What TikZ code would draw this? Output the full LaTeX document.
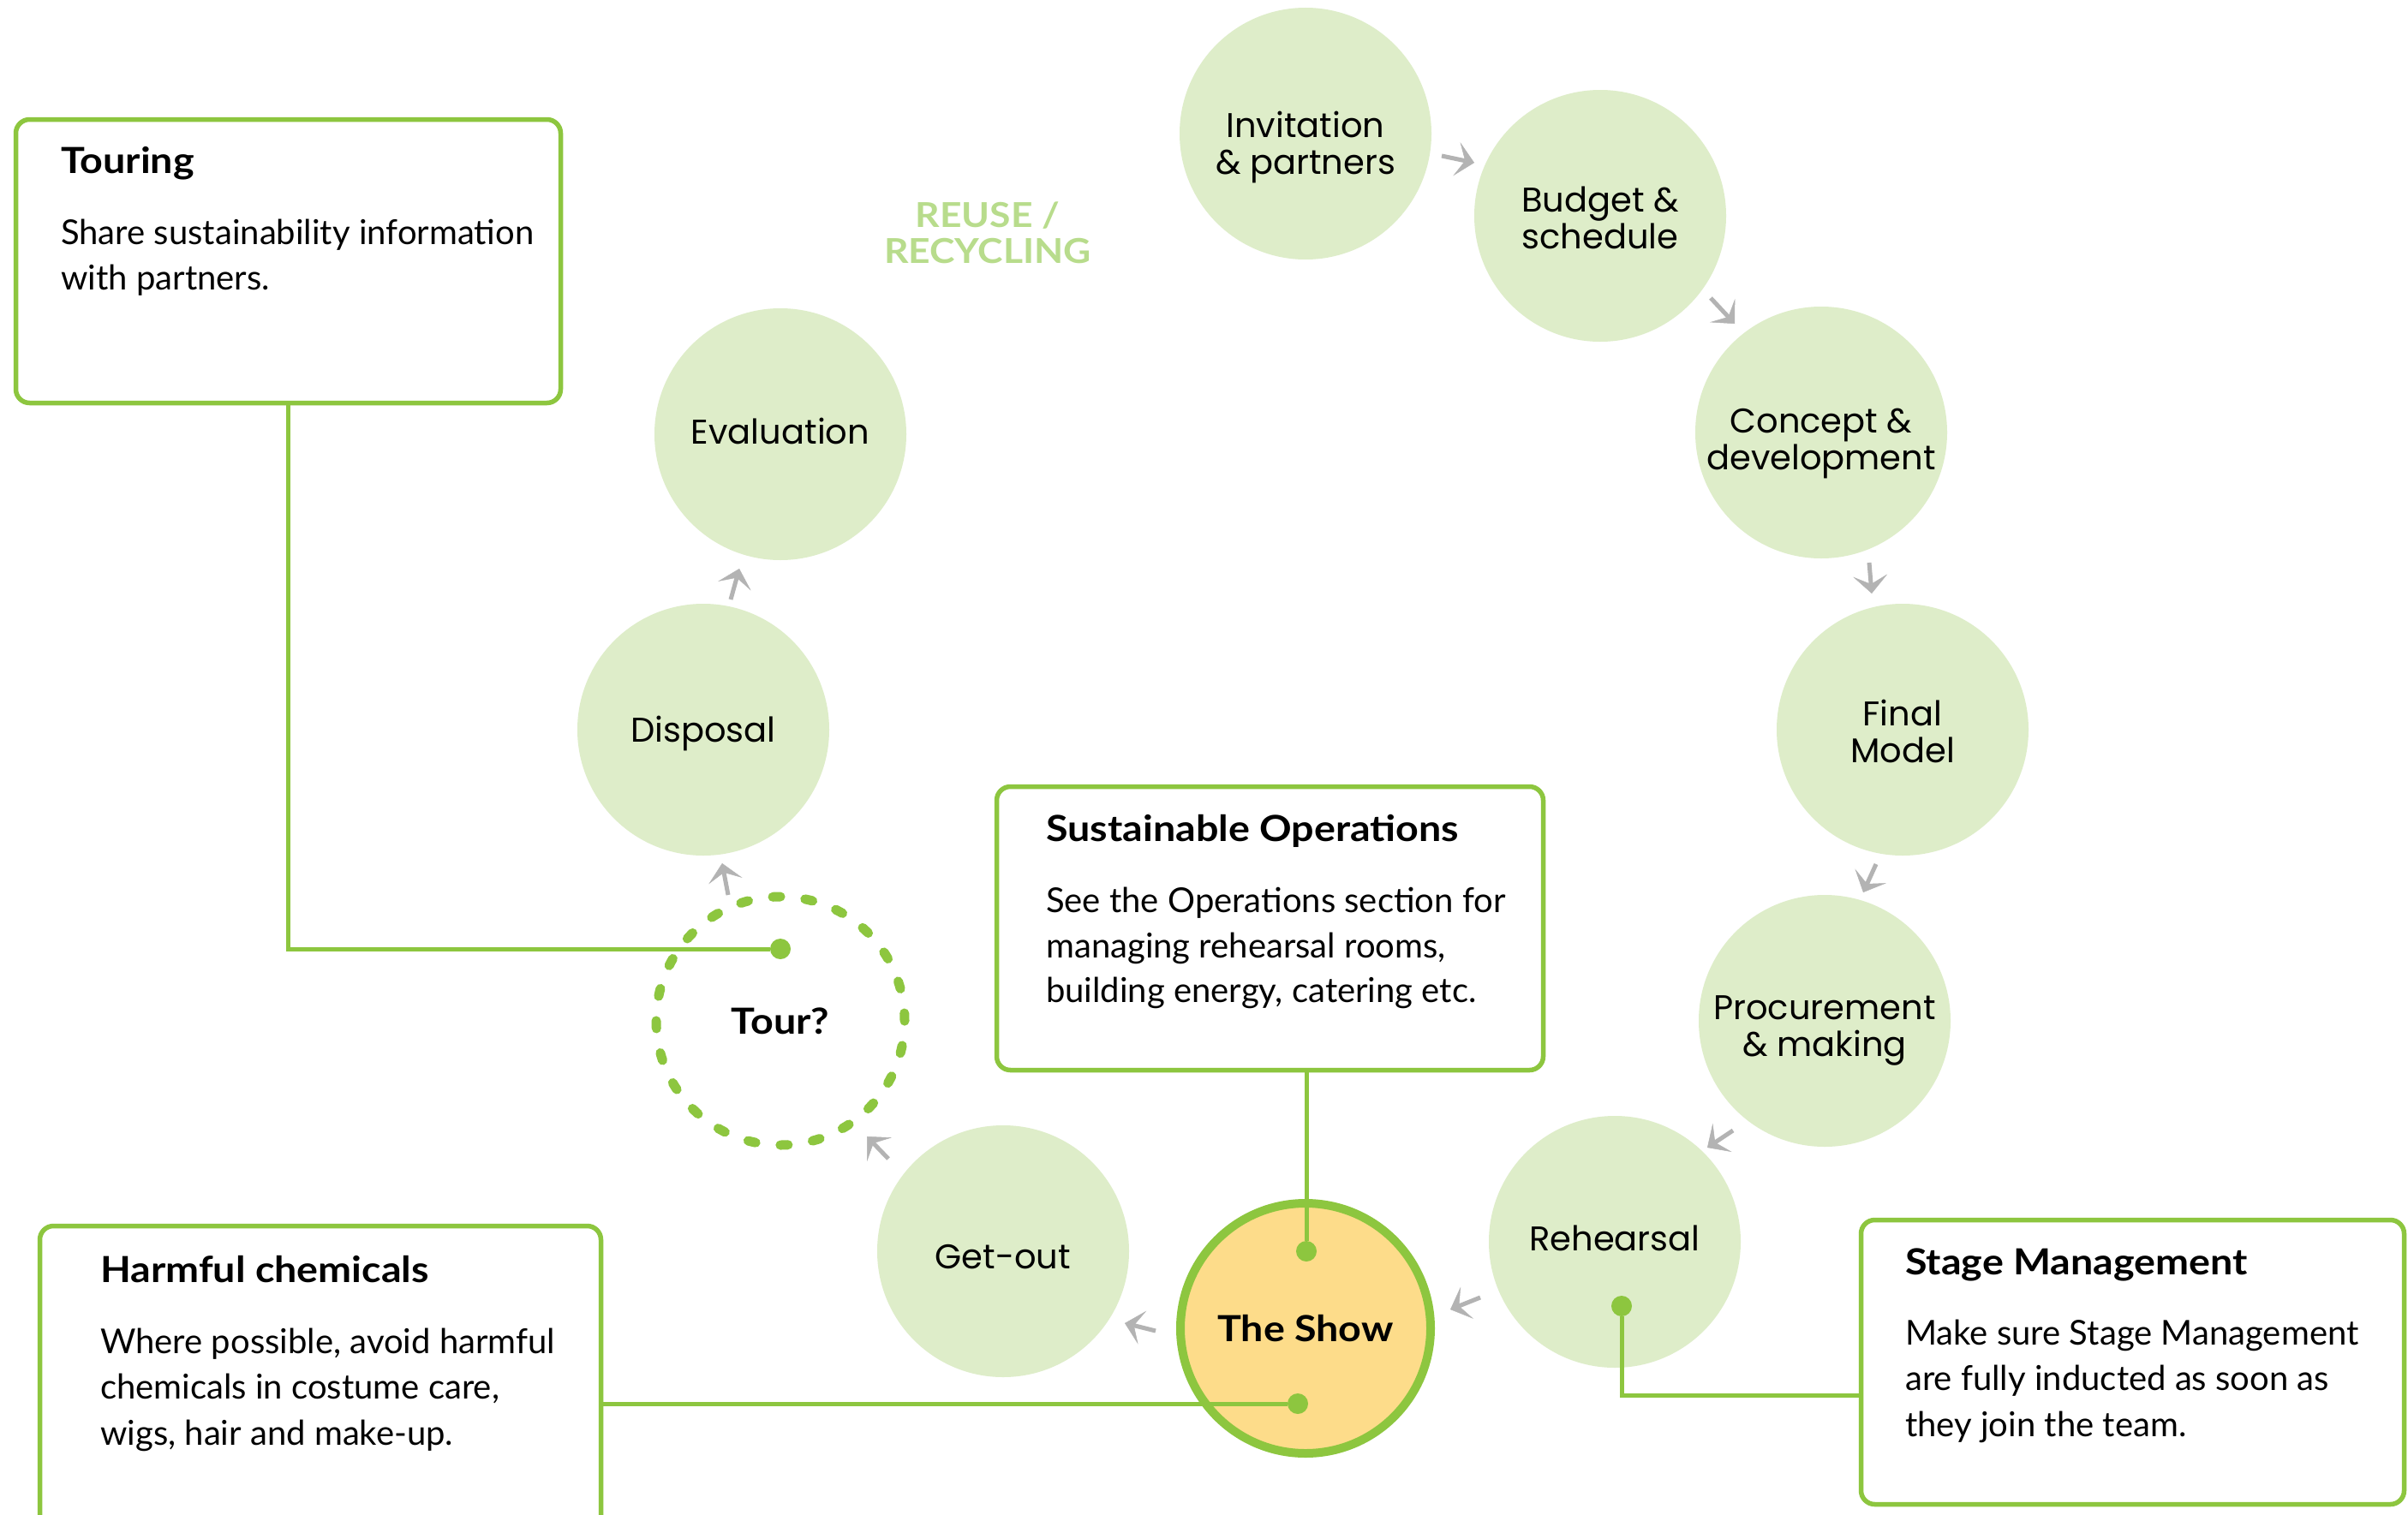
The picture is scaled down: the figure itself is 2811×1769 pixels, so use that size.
\documentclass[tikz,border=0pt]{standalone}
\usepackage{fontspec}
\setmainfont{Lato}
\newfontfamily\circfont{Poppins}
\newfontfamily\bodyfont{Lato}
\newfontfamily\titlefont[FakeStretch=1.11]{Lato}
\usetikzlibrary{arrows.meta,calc}

\definecolor{lgreen}{RGB}{141,198,63}
\definecolor{cfill}{RGB}{222,237,201}
\definecolor{showfill}{RGB}{253,220,138}
\definecolor{reusecol}{RGB}{184,220,140}
\definecolor{arrgray}{RGB}{179,179,179}

\tikzset{
  stagecirc/.style={circle, fill=cfill, minimum size=294pt, inner sep=0pt},
  circlabel/.style={inner sep=0pt, align=center, font=\circfont\fontsize{40}{43}\selectfont},
  showcirc/.style={circle, fill=showfill, draw=lgreen, line width=10pt, minimum size=292pt,
    inner sep=0pt, font=\titlefont\bfseries\fontsize{42}{46}\selectfont},
  tourcirc/.style={circle, draw=lgreen, line width=11pt, dash pattern=on 9pt off 28.96pt,
    line cap=round, minimum size=290pt, inner sep=0pt,
    font=\titlefont\bfseries\fontsize{42}{46}\selectfont},
  infobox/.style={rectangle, draw=lgreen, line width=5.5pt, rounded corners=16pt, fill=white, inner sep=0pt},
  boxtitle/.style={anchor=base west, inner sep=0pt, font=\titlefont\bfseries\fontsize{42}{48}\selectfont},
  boxline/.style={anchor=base west, inner sep=0pt, font=\bodyfont\fontsize{40}{53}\selectfont},
  conn/.style={draw=lgreen, line width=5pt},
  gdot/.style={circle, fill=lgreen, minimum size=24pt, inner sep=0pt},
  flowarrow/.style={draw=arrgray, line width=5pt,
    -{Stealth[length=21pt, width=40pt, inset=10pt, line width=0.5pt]}},
}

\begin{document}
\begin{tikzpicture}[x=1pt, y=-1pt]
\useasboundingbox (0,0) rectangle (2811,1769);
\fill[white] (0,0) rectangle (2811,1769);

% process circles
\node[stagecirc] (inv) at (1524,156) {};
\node[stagecirc] (bud) at (1868,252) {};
\node[stagecirc] (con) at (2126,505) {};
\node[stagecirc] (fin) at (2221,852) {};
\node[stagecirc] (pro) at (2130,1192) {};
\node[stagecirc] (reh) at (1885,1450) {};
\node[showcirc] (show) at (1524,1551) {The Show};
\node[stagecirc] (get) at (1171,1461) {};
\node[tourcirc] (tour) at (911,1192) {Tour?};
\node[stagecirc] (dis) at (821,852) {};
\node[stagecirc] (eva) at (911,507) {};

% circle labels
\node[circlabel] (invT) at ([yshift=-16pt]inv.center) {Invitation\\\& partners};
\node[circlabel] (budT) at ([yshift=-2pt]bud.center) {Budget \&\\schedule};
\node[circlabel] (conT) at ([yshift=-13pt]con.center) {Concept \&\\development};
\node[circlabel] (finT) at ([yshift=-2pt]fin.center) {Final\\Model};
\node[circlabel] (proT) at ([yshift=-11pt]pro.center) {Procurement\\\& making};
\node[circlabel] (rehT) at ([yshift=4pt]reh.center) {Rehearsal};
\node[circlabel] (getT) at ([yshift=-7pt]get.center) {Get-out};
\node[circlabel] (disT) at ([yshift=-4pt]dis.center) {Disposal};
\node[circlabel] (evaT) at ([yshift=4pt]eva.center) {Evaluation};

\node[font=\titlefont\bfseries\fontsize{40}{42}\selectfont, text=reusecol, align=center, inner sep=0pt]
  (reuse) at (1153,272) {REUSE /\\RECYCLING};

% flow arrows
\coordinate (a1s) at (1683,182);  \coordinate (a1e) at (1721,190);
\coordinate (a2s) at (1997,348);  \coordinate (a2e) at (2025,378);
\coordinate (a3s) at (2182,657);  \coordinate (a3e) at (2185,693);
\coordinate (a4s) at (2190,1009); \coordinate (a4e) at (2175,1042);
\coordinate (a5s) at (2023,1320); \coordinate (a5e) at (1993,1340);
\coordinate (a6s) at (1728,1515); \coordinate (a6e) at (1693,1529);
\coordinate (a7s) at (1349,1554); \coordinate (a7e) at (1313,1545);
\coordinate (a8s) at (1037,1353); \coordinate (a8e) at (1012,1327);
\coordinate (a9s) at (850,1045);  \coordinate (a9e) at (843,1008);
\coordinate (a10s) at (853,700);  \coordinate (a10e) at (863,664);
\foreach \i in {1,...,10} {\draw[flowarrow] (a\i s) -- (a\i e);}

% info boxes
\node[infobox, minimum width=636pt, minimum height=331pt] (tourbox) at (336.5,305) {};
\node[infobox, minimum width=638pt, minimum height=331pt] (opsbox) at (1482.5,1084) {};
\node[infobox, minimum width=634pt, minimum height=332pt] (stagebox) at (2489.5,1590.5) {};
\node[infobox, minimum width=655pt, minimum height=367pt] (harmbox) at (374,1615) {};

\node[boxtitle] (tourT) at (71,202) {Touring};
\node[boxline] (tourL1) at (71,285) {Share sustainability information};
\node[boxline] (tourL2) at (71,338) {with partners.};

\node[boxtitle] (opsT) at (1221,982) {Sustainable Operations};
\node[boxline] (opsL1) at (1221,1065) {See the Operations section for};
\node[boxline] (opsL2) at (1221,1118) {managing rehearsal rooms,};
\node[boxline] (opsL3) at (1221,1170) {building energy, catering etc.};

\node[boxtitle] (stageT) at (2224,1488) {Stage Management};
\node[boxline] (stageL1) at (2224,1570) {Make sure Stage Management};
\node[boxline] (stageL2) at (2224,1623) {are fully inducted as soon as};
\node[boxline] (stageL3) at (2224,1677) {they join the team.};

\node[boxtitle] (harmT) at (117,1497) {Harmful chemicals};
\node[boxline] (harmL1) at (117,1580) {Where possible, avoid harmful};
\node[boxline] (harmL2) at (117,1633) {chemicals in costume care,};
\node[boxline] (harmL3) at (117,1687) {wigs, hair and make-up.};

% connector end dots
\node[gdot] (tourdot) at (911,1108) {};
\node[gdot] (showdotA) at (1525,1461) {};
\node[gdot] (showdotB) at (1515,1639) {};
\node[gdot] (rehdot) at (1893,1525) {};

% connectors
\draw[conn] (tourbox.south) |- (tourdot);
\draw[conn] (opsbox.south -| showdotA) -- (showdotA);
\draw[conn] (harmbox.east |- showdotB) -- (showdotB);
\draw[conn] (rehdot) |- ([yshift=-38.5pt]stagebox.west);
\end{tikzpicture}
\end{document}
